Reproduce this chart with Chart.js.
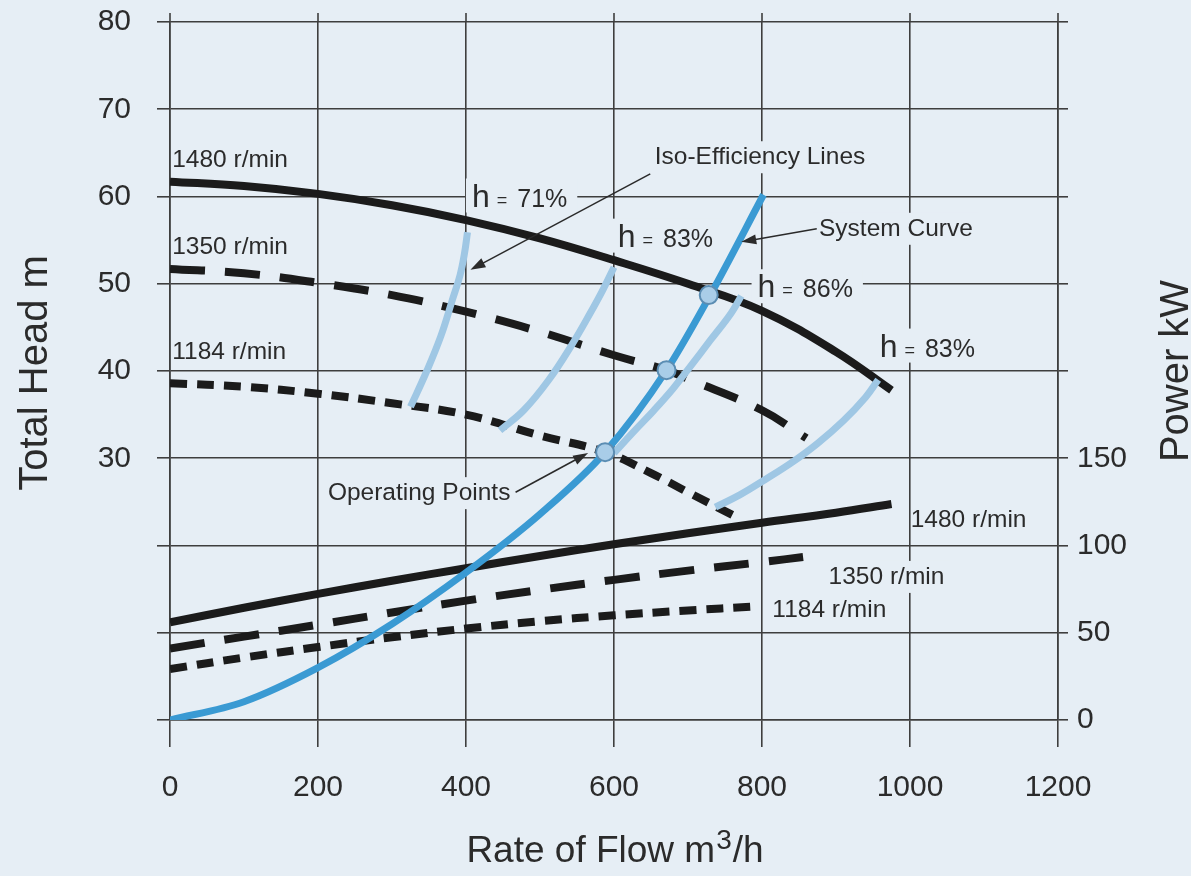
<!DOCTYPE html>
<html>
<head>
<meta charset="utf-8">
<script src="https://cdn.jsdelivr.net/npm/chart.js@4.4.1/dist/chart.umd.min.js"></script>
<style>
  html, body { margin: 0; padding: 0; background: #e6eef5; }
  #wrap { width: 1191px; height: 876px; position: relative; }
</style>
</head>
<body>
<div id="wrap"><canvas id="pumpChart"></canvas></div>
<script>
// flow in m3/h, head in m, power in kW
const head1480Q = [0, 100, 200, 300, 400, 500, 600, 700, 800, 900, 975];
const head1480H = [61.7, 61.2, 60.3, 59.0, 57.3, 55.2, 52.7, 50.0, 46.9, 42.2, 37.8];
const head1350Q = [0, 100, 200, 300, 400, 500, 600, 671, 700, 800, 860];
const head1350H = [51.7, 51.2, 50.1, 48.7, 46.8, 44.5, 41.8, 40.1, 39.1, 35.5, 32.3];
const head1184Q = [0, 100, 200, 300, 400, 500, 588, 650, 700, 760];
const head1184H = [38.6, 38.2, 37.4, 36.3, 35.0, 32.6, 30.7, 28.3, 26.1, 23.5];

const power1480Q = [0, 100, 200, 300, 400, 500, 600, 700, 800, 900, 975];
const power1480P = [56, 64.3, 72.3, 79.8, 87, 94, 100.7, 107.0, 113.0, 118.8, 123.8];
const power1350Q = [0, 100, 200, 300, 400, 500, 600, 700, 800, 860];
const power1350P = [41, 47.8, 54.6, 61.6, 68.4, 74.6, 80.3, 85.6, 90.5, 93.6];
const power1184Q = [0, 100, 200, 300, 400, 500, 600, 700, 790];
const power1184P = [29.2, 35.8, 41.8, 47.4, 52.4, 56.6, 60.0, 62.8, 65];

const systemQ = [0, 100, 200, 300, 400, 500, 588, 671, 730, 802];
const systemH = [0, 2.1, 6.0, 11.0, 16.9, 23.6, 30.7, 40.1, 48.7, 60.2];

const eff71Q = [325, 347, 366, 381, 392, 398, 402];
const eff71H = [35.9, 40.0, 44.0, 48.0, 51.0, 53.5, 55.9];
const eff83aQ = [446, 478, 512, 543, 567, 585, 600];
const eff83aH = [33.2, 35.5, 39.0, 43.0, 46.5, 49.3, 51.9];
const eff86Q = [600, 626, 654, 680, 703, 730, 758, 772];
const eff86H = [30.6, 33.0, 35.5, 38.0, 40.5, 43.5, 46.6, 48.6];
const eff83bQ = [737, 770, 805, 840, 875, 910, 940, 957];
const eff83bH = [24.4, 25.8, 27.6, 29.5, 31.7, 34.3, 37.0, 39.0];

const operQ = [588, 671, 728];
const operH = [30.7, 40.1, 48.7];

const font = '"Liberation Sans", Arial, Helvetica, sans-serif';
const ink = '#2b2b2b';
const gridInk = '#3e3e3e';
const bg = '#e6eef5';
const black = '#1b1b1b';
const noteSize = 24.5;

function pts(qs, vs) {
  return qs.map((q, i) => ({ x: q, y: vs[i] }));
}

function curve(qs, vs, axis, dash, order) {
  return {
    data: pts(qs, vs), yAxisID: axis, order: order,
    borderColor: black, borderWidth: 8, borderDash: dash, borderCapStyle: 'butt',
    tension: 0.4, pointRadius: 0, fill: false
  };
}

function effLine(qs, vs) {
  return {
    data: pts(qs, vs), yAxisID: 'y', order: 2,
    borderColor: '#9fc7e4', borderWidth: 7, borderCapStyle: 'butt',
    tension: 0.4, pointRadius: 0, fill: false
  };
}

// text notes, placed in flow / head units
const notes = [
  { text: '1480 r/min', q: 3, h: 64.2 },
  { text: '1350 r/min', q: 3, h: 54.2 },
  { text: '1184 r/min', q: 3, h: 42.2 },
  { text: 'Iso-Efficiency Lines', q: 655, h: 64.5, knock: true },
  { text: 'System Curve', q: 877, h: 56.3, knock: true },
  { text: 'Operating Points', q: 460, h: 26.0, right: true, knock: true },
  { text: '1480 r/min', q: 1001, h: 22.9 },
  { text: '1350 r/min', q: 890, h: 16.4, knock: true },
  { text: '1184 r/min', q: 814, h: 12.6 }
];
const etaNotes = [
  { pct: '71%', q: 408, h: 60.0 },
  { pct: '83%', q: 605, h: 55.4 },
  { pct: '86%', q: 794, h: 49.6 },
  { pct: '83%', q: 959, h: 42.8 }
];
const arrows = [
  { q1: 649, h1: 62.6, q2: 406, h2: 51.6 },
  { q1: 874, h1: 56.3, q2: 772, h2: 54.8 },
  { q1: 467, h1: 26.1, q2: 565, h2: 30.6 }
];

function etaParts(ctx, pct) {
  ctx.font = '32px ' + font;
  const wh = ctx.measureText('h').width;
  ctx.font = '18px ' + font;
  const we = ctx.measureText('=').width;
  ctx.font = '25px ' + font;
  const wp = ctx.measureText(pct).width;
  return { wh, we, wp, total: wh + 7 + we + 10 + wp };
}

const decor = {
  id: 'decor',
  beforeDraw(chart) {
    const ctx = chart.ctx;
    ctx.save();
    ctx.fillStyle = bg;
    ctx.fillRect(0, 0, chart.width, chart.height);
    ctx.restore();
  },
  beforeDatasetsDraw(chart) {
    const ctx = chart.ctx;
    const x = chart.scales.x, y = chart.scales.y;
    const top = chart.chartArea.top;
    ctx.save();
    // vertical grid lines poke above the top line
    ctx.strokeStyle = gridInk;
    ctx.lineWidth = 1.6;
    x.ticks.forEach(t => {
      const px = x.getPixelForValue(t.value);
      ctx.beginPath();
      ctx.moveTo(px, top - 9);
      ctx.lineTo(px, top);
      ctx.stroke();
    });
    // gaps in the grid behind labels
    ctx.fillStyle = bg;
    ctx.font = noteSize + 'px ' + font;
    notes.filter(n => n.knock).forEach(n => {
      const w = ctx.measureText(n.text).width;
      let px = x.getPixelForValue(n.q);
      const py = y.getPixelForValue(n.h);
      if (n.right) px -= w;
      ctx.fillRect(px - 6, py - 16, w + 12, 32);
    });
    etaNotes.forEach(n => {
      const p = etaParts(ctx, n.pct);
      const px = x.getPixelForValue(n.q);
      const py = y.getPixelForValue(n.h);
      ctx.fillRect(px - 6, py - 18, p.total + 16, 34);
    });
    ctx.restore();
  },
  afterDatasetsDraw(chart) {
    const ctx = chart.ctx;
    const x = chart.scales.x, y = chart.scales.y;
    const area = chart.chartArea;
    ctx.save();
    ctx.fillStyle = ink;
    ctx.textBaseline = 'middle';
    ctx.font = noteSize + 'px ' + font;
    notes.forEach(n => {
      ctx.textAlign = n.right ? 'right' : 'left';
      ctx.fillText(n.text, x.getPixelForValue(n.q), y.getPixelForValue(n.h));
    });
    ctx.textAlign = 'left';
    ctx.textBaseline = 'alphabetic';
    etaNotes.forEach(n => {
      const p = etaParts(ctx, n.pct);
      let px = x.getPixelForValue(n.q);
      const base = y.getPixelForValue(n.h) + 10;
      ctx.font = '32px ' + font;
      ctx.fillText('h', px, base);
      px += p.wh + 7;
      ctx.font = '18px ' + font;
      ctx.fillText('=', px, base - 1);
      px += p.we + 10;
      ctx.font = '25px ' + font;
      ctx.fillText(n.pct, px, base);
    });
    // leader lines with arrow heads
    ctx.strokeStyle = '#2a2a2a';
    ctx.lineWidth = 1.5;
    arrows.forEach(a => {
      const x1 = x.getPixelForValue(a.q1), y1 = y.getPixelForValue(a.h1);
      const x2 = x.getPixelForValue(a.q2), y2 = y.getPixelForValue(a.h2);
      const ang = Math.atan2(y2 - y1, x2 - x1);
      ctx.beginPath();
      ctx.moveTo(x1, y1);
      ctx.lineTo(x2 - 10 * Math.cos(ang), y2 - 10 * Math.sin(ang));
      ctx.stroke();
      ctx.beginPath();
      ctx.moveTo(x2, y2);
      ctx.lineTo(x2 - 15 * Math.cos(ang) + 5 * Math.sin(ang), y2 - 15 * Math.sin(ang) - 5 * Math.cos(ang));
      ctx.lineTo(x2 - 15 * Math.cos(ang) - 5 * Math.sin(ang), y2 - 15 * Math.sin(ang) + 5 * Math.cos(ang));
      ctx.closePath();
      ctx.fill();
    });
    // axis titles
    const midY = (area.top + area.bottom) / 2;
    ctx.textAlign = 'center';
    ctx.textBaseline = 'middle';
    ctx.font = '40px ' + font;
    ctx.save();
    ctx.translate(36, midY + 2);
    ctx.rotate(-Math.PI / 2);
    ctx.fillText('Total Head m', 0, 0);
    ctx.restore();
    ctx.save();
    ctx.translate(chart.width - 14, midY);
    ctx.rotate(-Math.PI / 2);
    ctx.fillText('Power kW', 0, 0);
    ctx.restore();
    ctx.textBaseline = 'alphabetic';
    ctx.textAlign = 'left';
    const mainFont = '37px ' + font, supFont = '28px ' + font;
    ctx.font = mainFont;
    const a1 = 'Rate of Flow m', a3 = '/h';
    const w1 = ctx.measureText(a1).width, w3 = ctx.measureText(a3).width;
    ctx.font = supFont;
    const w2 = ctx.measureText('3').width;
    let tx = (area.left + area.right) / 2 - (w1 + w2 + w3) / 2;
    const base = chart.height - 14;
    ctx.font = mainFont;
    ctx.fillText(a1, tx, base);
    ctx.font = supFont;
    ctx.fillText('3', tx + w1 + 1, base - 13);
    ctx.font = mainFont;
    ctx.fillText(a3, tx + w1 + w2 + 2, base);
    ctx.restore();
  }
};

const tickFont = { family: font, size: 30 };

new Chart(document.getElementById('pumpChart'), {
  type: 'line',
  data: {
    datasets: [
      {
        data: pts(operQ, operH), yAxisID: 'y', order: 0, showLine: false,
        pointRadius: 9, pointBackgroundColor: '#a9cde8', pointBorderColor: '#5b8db3', pointBorderWidth: 2
      },
      {
        data: pts(systemQ, systemH), yAxisID: 'y', order: 1,
        borderColor: '#3a9ad3', borderWidth: 7, borderCapStyle: 'butt',
        cubicInterpolationMode: 'monotone', pointRadius: 0, fill: false
      },
      effLine(eff71Q, eff71H),
      effLine(eff83aQ, eff83aH),
      effLine(eff86Q, eff86H),
      effLine(eff83bQ, eff83bH),
      curve(head1480Q, head1480H, 'y', [], 3),
      curve(head1350Q, head1350H, 'y', [35, 20], 3),
      curve(head1184Q, head1184H, 'y', [17, 10], 3),
      curve(power1480Q, power1480P, 'y1', [], 3),
      curve(power1350Q, power1350P, 'y1', [35, 20], 3),
      curve(power1184Q, power1184P, 'y1', [17, 10], 3)
    ]
  },
  options: {
    responsive: true,
    maintainAspectRatio: false,
    animation: false,
    layout: { padding: 0 },
    plugins: { legend: { display: false }, tooltip: { enabled: false } },
    scales: {
      x: {
        type: 'linear', min: 0, max: 1200,
        ticks: { stepSize: 200, font: tickFont, color: ink, padding: 23, autoSkip: false, maxRotation: 0,
          callback: v => String(v) },
        grid: { color: gridInk, lineWidth: 1.6, tickLength: 27 },
        border: { color: gridInk, width: 1.6 },
        afterFit(s) { s.height = 156; s.paddingLeft = 0; s.paddingRight = 0; }
      },
      y: {
        position: 'left', min: 0, max: 80,
        ticks: { stepSize: 10, font: tickFont, color: ink, padding: 26, autoSkip: false,
          callback: v => (v >= 30 ? String(v) : '') },
        grid: { color: gridInk, lineWidth: 1.6, tickLength: 13 },
        border: { color: gridInk, width: 1.6 },
        afterFit(s) { s.width = 170; s.paddingTop = 22; s.paddingBottom = 0; }
      },
      y1: {
        position: 'right', min: 0, max: 400,
        ticks: { stepSize: 50, font: tickFont, color: ink, padding: 9, autoSkip: false,
          callback: v => (v <= 150 ? String(v) : '') },
        grid: { color: gridInk, lineWidth: 1.6, tickLength: 10, drawOnChartArea: false },
        border: { color: gridInk, width: 1.6 },
        afterFit(s) { s.width = 133; s.paddingTop = 22; s.paddingBottom = 0; }
      }
    }
  },
  plugins: [decor]
});
</script>
</body>
</html>
